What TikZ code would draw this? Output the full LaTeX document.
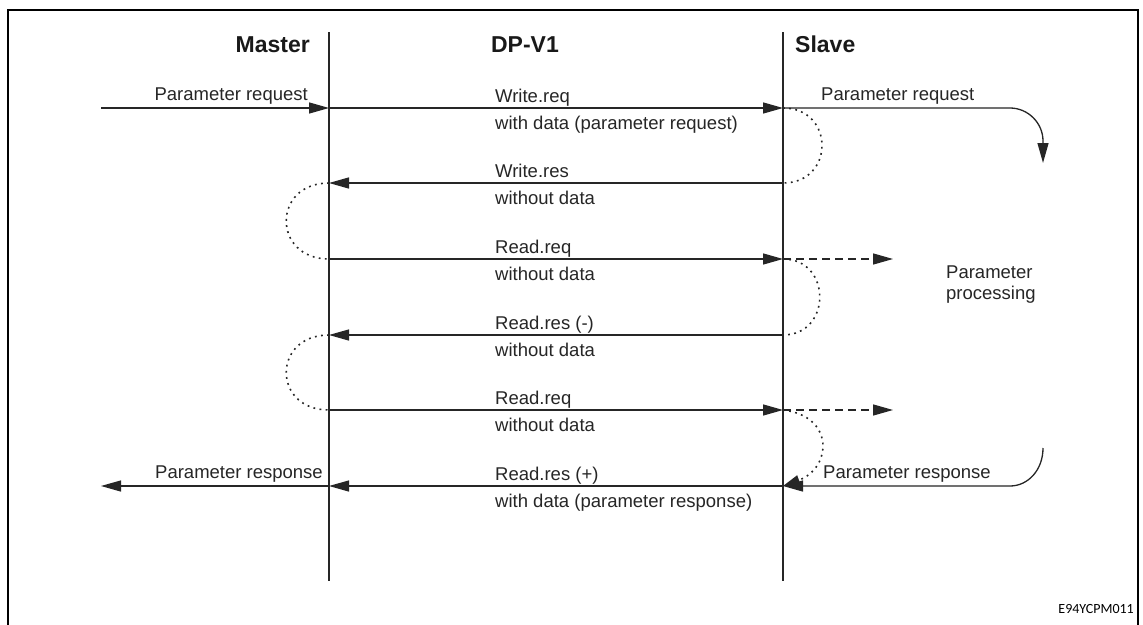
\documentclass[tikz,border=0pt]{standalone}
\usepackage{fontspec}
\setmainfont{Liberation Sans}
\newfontfamily\codefont{Carlito}
\usetikzlibrary{arrows.meta}
\begin{document}
\begin{tikzpicture}[x=1pt,y=-1pt,
  tip/.style={-{Triangle[length=20pt,width=11pt]}},
  txt/.style={inner sep=0pt,font=\fontsize{18.5}{21}\selectfont,text=black!85},
  ttl/.style={inner sep=0pt,font=\fontsize{23}{26}\bfseries\selectfont,text=black!90},
  life/.style={line width=1.8pt,black!85},
  msg/.style={line width=1.3pt,black!85,tip},
  msgline/.style={line width=1.3pt,black!85},
  dashmsg/.style={line width=1.3pt,black!85,dash pattern=on 8pt off 5pt,tip},
  dotarc/.style={line width=1.6pt,black!85,dash pattern=on 1.8pt off 4.4pt},
  frame/.style={line width=1.8pt,black}]
\useasboundingbox (0,0) rectangle (1143,624);
\fill[white] (0,0) rectangle (1143,624);
% frame
\draw[frame] (8,630) -- (8,10) -- (1138,10) -- (1138,630);
% lifelines
\coordinate (mtop) at (329,32); \coordinate (mbot) at (329,581);
\coordinate (stop) at (783,32); \coordinate (sbot) at (783,581);
\draw[life] (mtop) -- (mbot);
\draw[life] (stop) -- (sbot);
% titles
\node[ttl,anchor=base east] (tmaster) at (310,52) {Master};
\node[ttl,anchor=base] (tdp) at (525,52) {DP-V1};
\node[ttl,anchor=base west] (tslave) at (795,52) {Slave};
% points on lifelines
\foreach \n/\y in {1/108,2/183,3/259,4/335,5/410,6/486}{
  \coordinate (m\n) at (329,\y);
  \coordinate (s\n) at (783,\y);
}
\coordinate (lin) at (101,108);
\coordinate (lout) at (101,486);
\coordinate (ra) at (1010,108);
\coordinate (rb) at (1043,141);
\coordinate (rtip) at (1043,163);
\coordinate (rc) at (1043,448);
\coordinate (rd) at (1010,486);
\coordinate (d1) at (893,259);
\coordinate (d2) at (893,410);
% left request / response
\draw[msg] (lin) -- (m1);
\node[txt,anchor=base east] (lreq) at (308,100) {Parameter request};
\draw[msg] (m6) -- (lout);
\node[txt,anchor=base east] (lres) at (323,478) {Parameter response};
% messages
\draw[msg] (m1) -- (s1);
\draw[msg] (s2) -- (m2);
\draw[msg] (m3) -- (s3);
\draw[msg] (s4) -- (m4);
\draw[msg] (m5) -- (s5);
\draw[msg] (s6) -- (m6);
\node[txt,anchor=base west] (a1) at (495,102) {Write.req};
\node[txt,anchor=base west] (b1) at (495,129) {with data (parameter request)};
\node[txt,anchor=base west] (a2) at (495,177) {Write.res};
\node[txt,anchor=base west] (b2) at (495,204) {without data};
\node[txt,anchor=base west] (a3) at (495,253) {Read.req};
\node[txt,anchor=base west] (b3) at (495,280) {without data};
\node[txt,anchor=base west] (a4) at (495,329) {Read.res (-)};
\node[txt,anchor=base west] (b4) at (495,356) {without data};
\node[txt,anchor=base west] (a5) at (495,404) {Read.req};
\node[txt,anchor=base west] (b5) at (495,431) {without data};
\node[txt,anchor=base west] (a6) at (495,480) {Read.res (+)};
\node[txt,anchor=base west] (b6) at (495,507) {with data (parameter response)};
% right side
\draw[msgline,tip] (s1) -- (ra) .. controls (1028,108) and (1043,123) .. (rb) -- (rtip);
\node[txt,anchor=base west] (rreq) at (821,100) {Parameter request};
\draw[msgline,tip] (rc) .. controls (1043,470) and (1028,486) .. (rd) -- (s6);
\node[txt,anchor=base west] (rres) at (823,478) {Parameter response};
\draw[dashmsg] (s3) -- (d1);
\draw[dashmsg] (s5) -- (d2);
\node[txt,anchor=base west,align=left] (proc) at (946,299) {Parameter\\processing};
% dotted arcs
\draw[dotarc] (s1) .. controls (835,108) and (835,183) .. (s2);
\draw[dotarc] (m2) .. controls (272,183) and (272,259) .. (m3);
\draw[dotarc] (s3) .. controls (832,259) and (832,335) .. (s4);
\draw[dotarc] (m4) .. controls (272,335) and (272,410) .. (m5);
\draw[dotarc,-{Triangle[length=17pt,width=10pt]}] (s5) .. controls (835,416) and (832,468) .. (s6);
% code
\node[inner sep=0pt,anchor=base east,font=\codefont\fontsize{14}{16}\selectfont] (code) at (1134,613) {E94YCPM011};
\end{tikzpicture}
\end{document}
